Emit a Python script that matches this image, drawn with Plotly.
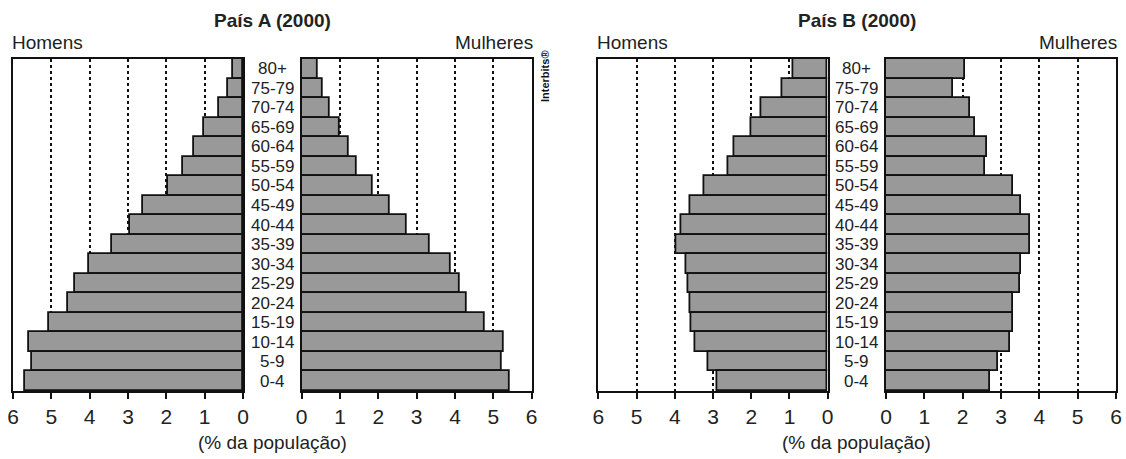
import plotly.graph_objects as go

ages = ["80+", "75-79", "70-74", "65-69", "60-64", "55-59", "50-54", "45-49", "40-44",
        "35-39", "30-34", "25-29", "20-24", "15-19", "10-14", "5-9", "0-4"]

a_homens = [0.26, 0.38, 0.63, 1.02, 1.28, 1.56, 1.96, 2.60, 2.96,
            3.41, 4.02, 4.37, 4.57, 5.07, 5.59, 5.50, 5.70]
a_mulheres = [0.42, 0.54, 0.72, 0.98, 1.22, 1.43, 1.84, 2.29, 2.74,
              3.33, 3.88, 4.11, 4.30, 4.77, 5.27, 5.22, 5.42]
b_homens = [0.90, 1.18, 1.73, 2.01, 2.43, 2.61, 3.23, 3.60, 3.83,
            3.97, 3.71, 3.64, 3.60, 3.57, 3.46, 3.11, 2.89]
b_mulheres = [2.06, 1.76, 2.20, 2.33, 2.64, 2.59, 3.30, 3.53, 3.75,
              3.75, 3.52, 3.49, 3.32, 3.32, 3.23, 2.91, 2.70]

x_ticks = [0, 1, 2, 3, 4, 5, 6]
titles = ["País A (2000)", "País B (2000)"]

W, H = 1126, 459
FONT = "Liberation Sans, Arial, sans-serif"
BAR = "#999999"
INK = "#111111"
TXT = "#222222"


def px(x):
    return x / W


def py(y):
    return 1 - y / H


y_top, y_bot = 59, 391
panels = [
    (a_homens, (13, 243), True),
    (a_mulheres, (301.7, 531.7), False),
    (b_homens, (598.3, 827.7), True),
    (b_mulheres, (886, 1116), False),
]

fig = go.Figure()
order = ages[::-1]
for i, (vals, (x0, x1), rev) in enumerate(panels, start=1):
    xa = "x" if i == 1 else f"x{i}"
    ya = "y" if i == 1 else f"y{i}"
    fig.add_trace(go.Bar(
        x=vals, y=ages, orientation="h", xaxis=xa, yaxis=ya,
        marker=dict(color=BAR, line=dict(color=INK, width=1.8)),
        showlegend=False, hoverinfo="x+y",
    ))
    xkey = "xaxis" if i == 1 else f"xaxis{i}"
    ykey = "yaxis" if i == 1 else f"yaxis{i}"
    fig.layout[xkey] = dict(
        domain=[px(x0), px(x1)], anchor=ya,
        range=[6, 0] if rev else [0, 6],
        tickvals=x_ticks, ticktext=[str(t) for t in x_ticks],
        ticks="outside", ticklen=6, tickwidth=2, tickcolor=INK,
        showline=True, linecolor=INK, linewidth=2, mirror=True,
        showgrid=True, gridcolor=INK, gridwidth=2, griddash="dot",
        zeroline=False, automargin=False,
        tickfont=dict(family=FONT, size=21, color=TXT),
        fixedrange=True,
    )
    fig.layout[ykey] = dict(
        domain=[py(y_bot), py(y_top)], anchor=xa,
        type="category", categoryorder="array", categoryarray=order,
        range=[-0.5, len(ages) - 0.5],
        showticklabels=False, ticks="",
        showline=True, linecolor=INK, linewidth=2, mirror=True,
        showgrid=False, zeroline=False, fixedrange=True, automargin=False,
    )

annotations = []
centers = [(243 + 301.7) / 2, (827.7 + 886) / 2]
for k, (cx, title) in enumerate(zip(centers, titles)):
    ya = "y" if k == 0 else "y3"
    for a in ages:
        annotations.append(dict(
            x=px(cx), xref="paper", y=a, yref=ya, text=a, showarrow=False,
            font=dict(family=FONT, size=17, color=TXT),
            xanchor="center", yanchor="middle",
        ))
    annotations.append(dict(
        x=px(cx), xref="paper", y=py(21), yref="paper", text=f"<b>{title}</b>",
        showarrow=False, font=dict(family=FONT, size=19, color=TXT),
        xanchor="center", yanchor="middle",
    ))
    annotations.append(dict(
        x=px(cx), xref="paper", y=py(442), yref="paper", text="(% da população)",
        showarrow=False, font=dict(family=FONT, size=19, color=TXT),
        xanchor="center", yanchor="middle",
    ))

for x_left, x_right in [(13, 531.7), (598.3, 1116)]:
    annotations.append(dict(
        x=px(x_left - 3), xref="paper", y=py(42), yref="paper", text="Homens",
        showarrow=False, font=dict(family=FONT, size=19, color=TXT),
        xanchor="left", yanchor="middle",
    ))
    annotations.append(dict(
        x=px(x_right + 3), xref="paper", y=py(42), yref="paper", text="Mulheres",
        showarrow=False, font=dict(family=FONT, size=19, color=TXT),
        xanchor="right", yanchor="middle",
    ))

annotations.append(dict(
    x=px(545), xref="paper", y=py(76), yref="paper", text="<b>Interbits®</b>",
    showarrow=False, textangle=-90,
    font=dict(family=FONT, size=11, color=INK),
    xanchor="center", yanchor="middle",
))

fig.update_layout(
    width=W, height=H,
    margin=dict(l=0, r=0, t=0, b=0, autoexpand=False),
    paper_bgcolor="white", plot_bgcolor="white",
    bargap=0,
    annotations=annotations,
)

fig.write_html(
    "out.html",
    config={"displayModeBar": False},
    post_script="document.body.style.margin='0';document.body.style.overflow='hidden';",
)
